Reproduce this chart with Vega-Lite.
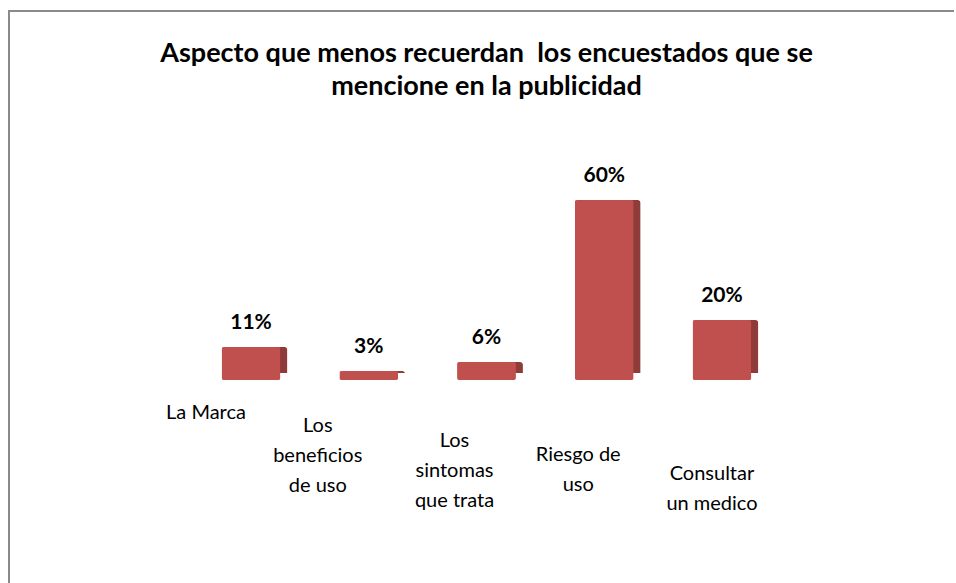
{
  "$schema": "https://vega.github.io/schema/vega-lite/v6.json",
  "width": 955,
  "height": 592,
  "autosize": {"type": "none"},
  "padding": {"left": 9, "top": 11, "right": -10, "bottom": -20},
  "background": "white",
  "config": {"view": {"stroke": "#8a8a8a", "strokeWidth": 2}, "font": "Lato"},
  "title": {
    "text": ["Aspecto que menos recuerdan\u00a0 los encuestados que se", "mencione en la publicidad"],
    "font": "Lato",
    "fontSize": 27,
    "fontWeight": "bold",
    "color": "black",
    "anchor": "middle",
    "frame": "group",
    "baseline": "top",
    "offset": -90,
    "lineHeight": 33
  },
  "data": {
    "values": [
      {"aspecto": "La Marca", "porcentaje": 0.11},
      {"aspecto": "Los beneficios de uso", "porcentaje": 0.03},
      {"aspecto": "Los sintomas que trata", "porcentaje": 0.06},
      {"aspecto": "Riesgo de uso", "porcentaje": 0.60},
      {"aspecto": "Consultar un medico", "porcentaje": 0.20}
    ]
  },
  "encoding": {
    "x": {
      "field": "aspecto",
      "type": "nominal",
      "sort": null,
      "scale": {"paddingInner": 0.5, "paddingOuter": 0, "range": [212.6, 742.4]},
      "axis": {
        "title": null,
        "domain": false,
        "ticks": false,
        "labelAngle": 0,
        "labelFont": "Lato",
        "labelFontSize": 20,
        "labelColor": "black",
        "labelLineHeight": 30,
        "labelBaseline": "top",
        "labelOverlap": false,
        "offset": -205,
        "labelPadding": {
          "condition": [
            {"test": "datum.value == 'Los beneficios de uso'", "value": 17},
            {"test": "datum.value == 'Los sintomas que trata'", "value": 32},
            {"test": "datum.value == 'Riesgo de uso'", "value": 46},
            {"test": "datum.value == 'Consultar un medico'", "value": 65}
          ],
          "value": 4
        },
        "labelOffset": {
          "condition": [
            {"test": "datum.value == 'La Marca'", "value": -45},
            {"test": "datum.value == 'Los beneficios de uso'", "value": -51},
            {"test": "datum.value == 'Los sintomas que trata'", "value": -32},
            {"test": "datum.value == 'Riesgo de uso'", "value": -26}
          ],
          "value": -10
        },
        "labelExpr": "datum.value == 'Los beneficios de uso' ? ['Los','beneficios','de uso'] : datum.value == 'Los sintomas que trata' ? ['Los','sintomas','que trata'] : datum.value == 'Riesgo de uso' ? ['Riesgo de','uso'] : datum.value == 'Consultar un medico' ? ['Consultar','un medico'] : datum.label"
      }
    },
    "y": {
      "field": "porcentaje",
      "type": "quantitative",
      "scale": {"domain": [-0.7433, 1.23]},
      "axis": null
    }
  },
  "layer": [
    {"mark": {"type": "bar", "fill": "#8E3B39", "xOffset": 7, "yOffset": -7, "cornerRadius": 3}},
    {"mark": {"type": "bar", "fill": "#C0504D", "cornerRadius": 2}},
    {
      "mark": {"type": "text", "baseline": "bottom", "dy": -14, "font": "Lato", "fontSize": 21, "fontWeight": "bold", "color": "black"},
      "encoding": {"text": {"field": "porcentaje", "type": "quantitative", "format": ".0%"}}
    }
  ]
}
